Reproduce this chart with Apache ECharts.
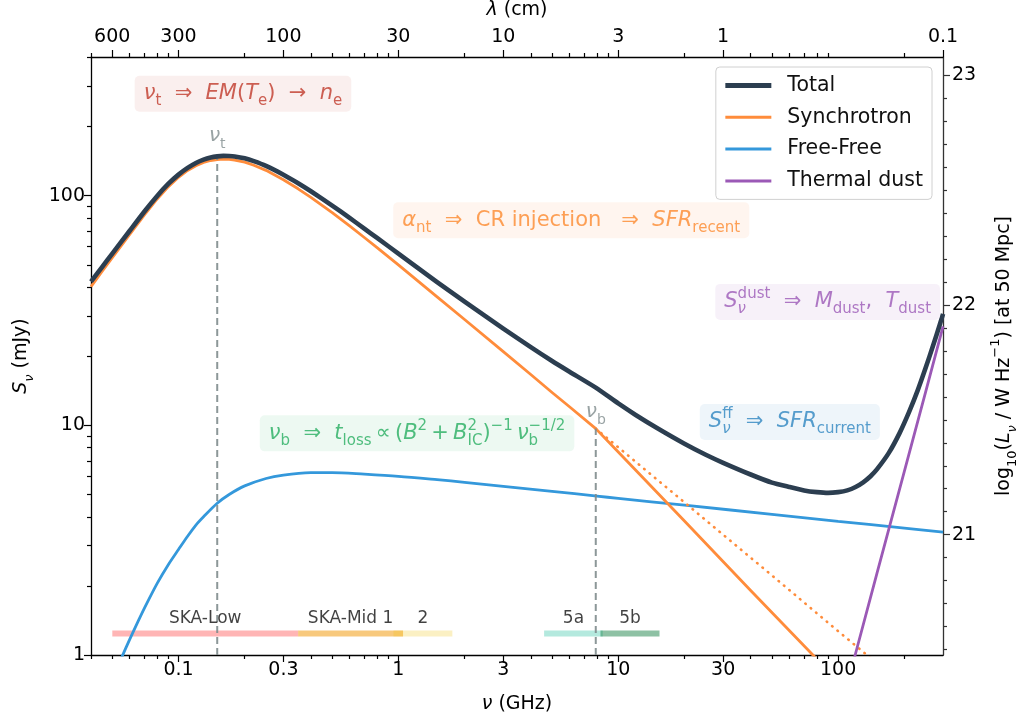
<!DOCTYPE html>
<html><head><meta charset="utf-8">
<script src="https://cdn.jsdelivr.net/npm/echarts@6/dist/echarts.min.js"></script>
<style>html,body{margin:0;padding:0;background:#fff}#c{width:1019px;height:722px}</style>
</head><body><div id="c"></div>
<script>
// ================= DATA =================
// frequencies in GHz, flux densities in mJy
const FREQ_TOTAL = [0.04,0.045,0.05,0.06,0.07,0.08,0.09,0.1,0.11,0.12,0.13,0.14,0.15,0.16,0.17,0.18,0.2,0.22,0.25,0.3,0.35,0.4,0.5,0.6,0.7,0.8,1,1.5,2,3,4,5,6,7.9,10,12,15,20,25,30,40,50,60,70,80,90,100,110,120,130,140,150,170,190,210,230,250,270,290,300];
const S_TOTAL    = [42.3,49,56,70.4,85.4,99.8,112.8,123.6,132.2,138.9,143.6,146.7,148.4,149.1,149,148.3,145.5,141.5,134.9,123.5,113.4,104.6,90.6,80.1,71.9,65.5,56,42.1,34.55,26.4,21.9,19.06,17.12,14.6,12.46,11.1,9.74,8.32,7.45,6.87,6.11,5.63,5.39,5.21,5.12,5.08,5.12,5.21,5.39,5.65,5.99,6.43,7.59,9.23,11.42,14.2,17.8,22.2,27.5,30.6];

const FREQ_SYNC = [0.04,0.045,0.05,0.06,0.07,0.08,0.09,0.1,0.11,0.12,0.13,0.14,0.15,0.16,0.17,0.18,0.2,0.22,0.25,0.3,0.35,0.4,0.5,0.6,0.7,0.8,1,1.5,2,3,4,5,6,7.9,10,20,40,80];
const S_SYNC    = [40.2,46.9,53.7,67.8,82.5,96.8,109.6,120.3,128.9,135.2,139.6,142.4,143.8,144.3,144.0,143.1,140.0,135.8,129.0,117.4,107.2,98.4,84.4,73.9,65.8,59.4,50.0,36.3,28.9,20.95,16.65,13.9,12.05,9.68,7.65,3.83,1.91,0.96];

// synchrotron without the break (dotted continuation)
const FREQ_SYNC_NOBREAK = [7.9,20,50,100,150];
const S_SYNC_NOBREAK    = [9.68,4.62,2.22,1.27,0.92];

const FREQ_FF = [0.05,0.055,0.06,0.065,0.07,0.08,0.09,0.1,0.11,0.12,0.13,0.15,0.17,0.2,0.25,0.3,0.4,0.5,0.7,1,1.5,2,3,5,8,10,20,50,100,200,300];
const S_FF    = [0.79,0.97,1.17,1.38,1.6,2.05,2.48,2.88,3.29,3.68,4.0,4.58,5.0,5.45,5.87,6.07,6.22,6.23,6.13,6.0,5.8,5.65,5.43,5.16,4.92,4.81,4.49,4.10,3.82,3.57,3.43];

const FREQ_DUST = [110,119.5,150,200,250,300];
const S_DUST    = [0.74,1.0,2.26,6.3,14.0,27.0];

// characteristic frequencies and the flux on the curve there
const NU_T = 0.15, S_NU_T = 148;
const NU_B = 7.9,  S_NU_B = 9.68;

// SKA bands (GHz)
const BAND_NAMES = ['SKA-Low','SKA-Mid 1','2','5a','5b'];
const BAND_LO    = [0.05,0.35,0.95,4.6,8.3];
const BAND_HI    = [0.35,1.05,1.76,8.5,15.4];

// tick labels
const X_TICKS_GHZ   = [0.1,0.3,1,3,10,30,100];
const X_MINOR_GHZ   = [0.04,0.05,0.06,0.07,0.08,0.09,0.2,0.4,0.5,0.6,0.7,0.8,0.9,2,4,5,6,7,8,9,20,40,50,60,70,80,90,200];
const LAMBDA_TICKS_CM = [600,300,100,30,10,3,1,0.1];
const TOP_MINOR_GHZ = [0.04,0.06,0.07,0.08,0.09,0.2,0.4,0.5,0.6,0.7,0.8,0.9,2,4,5,6,7,8,9,20,40,50,60,70,80,90,200];
const Y_TICKS_MJY   = [1,10,100];
const Y_MINOR_MJY   = [2,3,4,5,6,7,8,9,20,30,40,50,60,70,80,90,200,300,400];
const L_TICKS       = [21,22,23];
const L_MINOR       = [20.5,20.6,20.7,20.8,20.9,21.1,21.2,21.3,21.4,21.5,21.6,21.7,21.8,21.9,22.1,22.2,22.3,22.4,22.5,22.6,22.7,22.8,22.9];

// ================= LAYOUT / STYLE =================
const C_CM_GHZ = 29.9792458;
const LOG = Math.log10;
const X_MIN = LOG(0.04), X_MAX = LOG(C_CM_GHZ / 0.1);
const Y_MIN = 0, Y_MAX = LOG(402);
const MPC = 3.0857e22;
const L_OFFSET = LOG(4 * Math.PI * Math.pow(50 * MPC, 2) * 1e-29); // mJy -> W/Hz at 50 Mpc
const FONT = "'DejaVu Sans', sans-serif";
const COL = {total:'#2c3e50', sync:'#ff8c3b', ff:'#3498db', dust:'#9b59b6', gray:'#7f8c8d'};
const WIDTH = {total: 4.6, comp: 2.8};
const BAND_COLORS = ['rgba(255,107,107,0.5)','rgba(243,156,18,0.55)','rgba(241,196,15,0.25)','rgba(26,188,156,0.33)','rgba(30,132,73,0.5)'];
const BAND_LEVEL = 1.24, BAND_LABEL_LEVEL = 1.44;

const pairs = (f, s) => f.map((v, i) => [LOG(v), LOG(s[i])]);
const fmt = v => String(+v.toPrecision(2));

function rich(color, size) {
  size = size || 20;
  const sub = Math.round(size * 0.7);
  const base = {fontFamily: FONT, fontSize: size, color: color, lineHeight: 30, align: 'left'};
  const s = {fontFamily: FONT, fontSize: sub, color: color, lineHeight: 16, align: 'left'};
  return {
    n: base,
    i: Object.assign({}, base, {fontStyle: 'italic'}),
    b: Object.assign({}, s, {verticalAlign: 'bottom'}),
    bi: Object.assign({}, s, {verticalAlign: 'bottom', fontStyle: 'italic'}),
    b0: Object.assign({}, s, {verticalAlign: 'bottom', width: 0}),
    bi0: Object.assign({}, s, {verticalAlign: 'bottom', fontStyle: 'italic', width: 0}),
    p: Object.assign({}, s, {verticalAlign: 'top'}),
    p0: Object.assign({}, s, {verticalAlign: 'top', width: 0})
  };
}

const TS = '\u2009'; // thin space
const ANNOTS = [
  {nu: 0.1964, s: 278, color: '#c0392b', bg: '#f9ebea',
   text: '{i|ν}{b|t}{n|  ⇒  }{i|EM}{n|(}{i|T}{b|e}{n|)  →  }{i|n}{b|e}'},
  {nu: 6.11, s: 78.3, color: '#fd8a2e', bg: '#fff3eb',
   text: '{i|α}{b|nt}{n|  ⇒  CR injection   ⇒  }{i|SFR}{b|recent}'},
  {nu: 89.6, s: 34.5, color: '#9b59b6', bg: '#f5eef8',
   text: '{i|S}{bi0|ν}{p|dust}{n|  ⇒  }{i|M}{b|dust}{n|,  }{i|T}{b|dust}'},
  {nu: 60.3, s: 10.34, color: '#2e86c1', bg: '#eaf3f9',
   text: '{i|S}{bi0|ν}{p|ff}{n|  ⇒  }{i|SFR}{b|current}'},
  {nu: 1.216, s: 9.23, color: '#27ae60', bg: '#e9f7ef',
   text: '{i|ν}{b|b}{n|  ⇒  }{i|t}{b|loss}{n|' + TS + '∝' + TS + '(}{i|B}{p|2}{n|' + TS + '+' + TS + '}{i|B}{p0|2}{b|IC}{n|)}{p|−1}{n|' + TS + '}{i|ν}{b0|b}{p|−1/2}'}
];

const MARK_LABELS = [
  {nu: NU_T, s: 182, text: '{i|ν}{b|t}'},
  {nu: NU_B, s: 11.45, text: '{i|ν}{b|b}'}
];

// ================= CHART =================
const chart = echarts.init(document.getElementById('c'), null, {renderer: 'canvas'});

const axisBase = {type: 'value', min: X_MIN, max: X_MAX, splitLine: {show: false}};
const tickStyle = {color: '#000', width: 1.2};
const lineOn = (c) => ({show: true, onZero: false, lineStyle: {color: c || '#000', width: 1.3}});
const lineOff = {show: false, onZero: false};

const xAxis = [
  Object.assign({}, axisBase, {
    position: 'bottom', axisLine: lineOn(),
    axisTick: {show: true, length: 7, lineStyle: tickStyle, customValues: X_TICKS_GHZ.map(LOG)},
    axisLabel: {customValues: X_TICKS_GHZ.map(LOG), formatter: v => fmt(Math.pow(10, v)),
                fontFamily: FONT, fontSize: 19, color: '#000', margin: 6},
    name: '{i|ν}{n| (GHz)}', nameLocation: 'middle', nameGap: 34,
    nameTextStyle: {rich: rich('#000', 19)}
  }),
  Object.assign({}, axisBase, {
    position: 'bottom', axisLine: lineOff,
    axisTick: {show: true, length: 4, lineStyle: tickStyle, customValues: X_MINOR_GHZ.map(LOG)},
    axisLabel: {show: false}
  }),
  Object.assign({}, axisBase, {
    position: 'top', axisLine: lineOn(),
    axisTick: {show: true, length: 7, lineStyle: tickStyle,
               customValues: LAMBDA_TICKS_CM.map(l => LOG(C_CM_GHZ / l))},
    axisLabel: {customValues: LAMBDA_TICKS_CM.map(l => LOG(C_CM_GHZ / l)),
                formatter: v => fmt(C_CM_GHZ / Math.pow(10, v)),
                fontFamily: FONT, fontSize: 19, color: '#000', margin: 10},
    name: '{i|λ}{n| (cm)}', nameLocation: 'middle', nameGap: 32,
    nameTextStyle: {rich: rich('#000', 19)}
  }),
  Object.assign({}, axisBase, {
    position: 'top', axisLine: lineOff,
    axisTick: {show: true, length: 4, lineStyle: tickStyle, customValues: TOP_MINOR_GHZ.map(LOG)},
    axisLabel: {show: false}
  })
];

const yAxis = [
  {type: 'value', position: 'left', min: Y_MIN, max: Y_MAX, splitLine: {show: false},
   axisLine: lineOn(),
   axisTick: {show: true, length: 7, lineStyle: tickStyle, customValues: Y_TICKS_MJY.map(LOG)},
   axisLabel: {customValues: Y_TICKS_MJY.map(LOG), formatter: v => fmt(Math.pow(10, v)),
               fontFamily: FONT, fontSize: 19, color: '#000', margin: 6},
   name: '{i|S}{bi|ν}{n| (mJy)}', nameLocation: 'middle', nameGap: 55, nameRotate: 90,
   nameTextStyle: {rich: rich('#000', 19)}},
  {type: 'value', position: 'left', min: Y_MIN, max: Y_MAX, splitLine: {show: false},
   axisLine: lineOff,
   axisTick: {show: true, length: 4, lineStyle: tickStyle, customValues: Y_MINOR_MJY.map(LOG)},
   axisLabel: {show: false}},
  {type: 'value', position: 'right', min: Y_MIN + L_OFFSET, max: Y_MAX + L_OFFSET, splitLine: {show: false},
   axisLine: lineOn('#333'),
   axisTick: {show: true, length: 7, lineStyle: {color: '#333', width: 1.2}, customValues: L_TICKS},
   axisLabel: {customValues: L_TICKS, formatter: v => String(Math.round(v)),
               fontFamily: FONT, fontSize: 19, color: '#000', margin: 9},
   name: '{n|log}{b|10}{n|(}{i|L}{bi|ν}{n| / W Hz}{p|−1}{n|) [at 50 Mpc]}',
   nameLocation: 'middle', nameGap: 46, nameRotate: 90,
   nameTextStyle: {rich: rich('#000', 19)}},
  {type: 'value', position: 'right', min: Y_MIN + L_OFFSET, max: Y_MAX + L_OFFSET, splitLine: {show: false},
   axisLine: lineOff,
   axisTick: {show: true, length: 4, lineStyle: {color: '#333', width: 1.2}, customValues: L_MINOR},
   axisLabel: {show: false}}
];

const series = [];

// SKA bands
BAND_NAMES.forEach((name, i) => {
  series.push({
    type: 'line', silent: true, symbol: 'none', z: 1,
    data: [[LOG(BAND_LO[i]), LOG(BAND_LEVEL)], [LOG(BAND_HI[i]), LOG(BAND_LEVEL)]],
    lineStyle: {color: BAND_COLORS[i], width: 6, cap: 'butt'}
  });
});
series.push({
  type: 'scatter', silent: true, symbolSize: 0, z: 5,
  data: BAND_NAMES.map((name, i) => ({
    value: [(LOG(BAND_LO[i]) + LOG(BAND_HI[i])) / 2, LOG(BAND_LABEL_LEVEL)],
    label: {show: true, position: 'inside', formatter: name, fontFamily: FONT, fontSize: 17, color: '#111'}
  }))
});

// data lines
series.push({name: 'Free-Free', type: 'line', symbol: 'none', smooth: 0.3, z: 3,
  data: pairs(FREQ_FF, S_FF), lineStyle: {color: COL.ff, width: WIDTH.comp}, itemStyle: {color: COL.ff}});
series.push({name: 'Synchrotron', type: 'line', symbol: 'none', smooth: false, z: 3,
  data: pairs(FREQ_SYNC, S_SYNC), lineStyle: {color: COL.sync, width: WIDTH.comp, join: 'round'}, itemStyle: {color: COL.sync}});
series.push({name: 'sync-nobreak', type: 'line', symbol: 'none', smooth: false, z: 3, silent: true,
  data: pairs(FREQ_SYNC_NOBREAK, S_SYNC_NOBREAK), lineStyle: {color: COL.sync, width: 2.6, type: [0.5, 6.5], cap: 'round'}});
series.push({name: 'Thermal dust', type: 'line', symbol: 'none', z: 3,
  data: pairs(FREQ_DUST, S_DUST), lineStyle: {color: COL.dust, width: WIDTH.comp}, itemStyle: {color: COL.dust}});
series.push({name: 'Total', type: 'line', symbol: 'none', smooth: 0.2, z: 4,
  data: pairs(FREQ_TOTAL, S_TOTAL), lineStyle: {color: COL.total, width: WIDTH.total, join: 'round'}, itemStyle: {color: COL.total}});

// characteristic frequency markers
[[NU_T, S_NU_T], [NU_B, S_NU_B]].forEach(p => {
  series.push({type: 'line', silent: true, symbol: 'none', z: 3,
    data: [[LOG(p[0]), LOG(1)], [LOG(p[0]), LOG(p[1])]],
    lineStyle: {color: COL.gray, width: 2, type: [7, 4], opacity: 0.9}});
});
series.push({
  type: 'scatter', silent: true, symbolSize: 0, z: 6,
  data: MARK_LABELS.map(m => ({
    value: [LOG(m.nu), LOG(m.s)],
    label: {show: true, position: 'inside', formatter: m.text, rich: rich(COL.gray, 20)}
  }))
});

// annotation boxes
series.push({
  type: 'scatter', silent: true, symbolSize: 0, z: 7,
  data: ANNOTS.map(a => ({
    value: [LOG(a.nu), LOG(a.s)],
    label: {show: true, position: 'inside', formatter: a.text, rich: rich(a.color, 21),
            backgroundColor: a.bg, padding: [3, 9], borderRadius: 5}
  }))
});

const legendItem = (name, color, w) => ({name: name, lineStyle: {color: color, width: w}});

chart.setOption({
  animation: false,
  backgroundColor: '#fff',
  grid: {left: 91, right: 76, top: 57, bottom: 67, containLabel: false, outerBoundsMode: 'none'},
  xAxis: xAxis,
  yAxis: yAxis,
  legend: {
    data: [
      legendItem('Total', COL.total, 5),
      legendItem('Synchrotron', COL.sync, 3),
      legendItem('Free-Free', COL.ff, 3),
      legendItem('Thermal dust', COL.dust, 3)
    ],
    orient: 'vertical', right: 87, top: 67,
    itemWidth: 46, itemHeight: 14, itemGap: 10.8,
    padding: [8, 9, 8, 7],
    itemStyle: {opacity: 0},
    backgroundColor: 'rgba(255,255,255,0.9)', borderColor: '#d0d0d0', borderWidth: 1, borderRadius: 4,
    textStyle: {fontFamily: FONT, fontSize: 20.5, color: '#111', lineHeight: 20, padding: [0, 0, 0, 11]}
  },
  series: series
});
</script>
</body></html>
